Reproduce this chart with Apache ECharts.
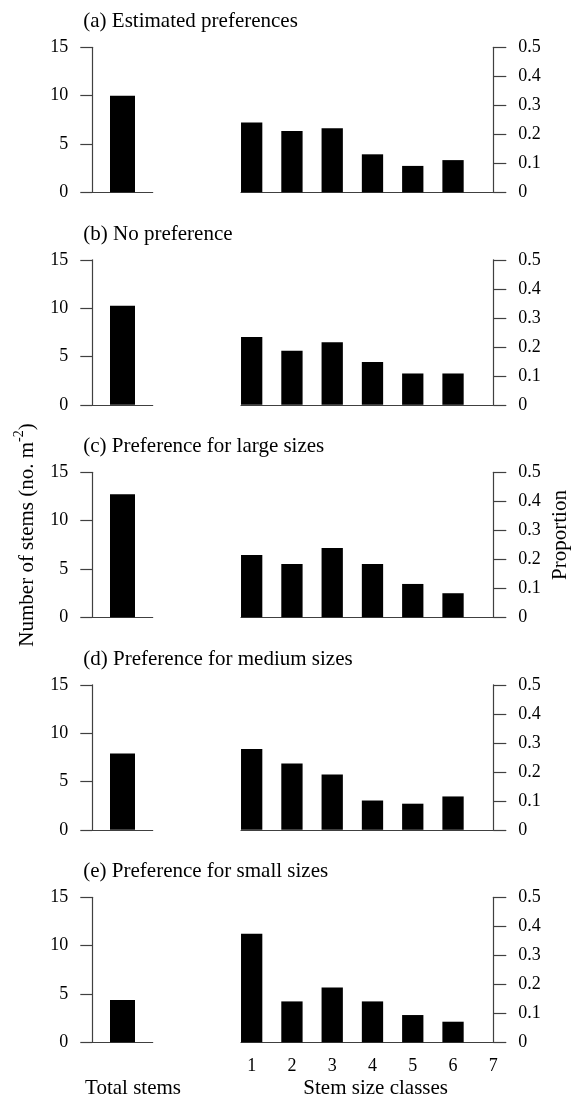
<!DOCTYPE html>
<html>
<head>
<meta charset="utf-8">
<script src="https://cdn.jsdelivr.net/npm/echarts@6/dist/echarts.min.js"></script>
<style>
html,body{margin:0;padding:0;background:#fff;}
#chart{width:582px;height:1102px;}
</style>
</head>
<body>
<div id="chart"></div>
<script>
// ---- data ----
const panelTitles = [
  '(a) Estimated preferences',
  '(b) No preference',
  '(c) Preference for large sizes',
  '(d) Preference for medium sizes',
  '(e) Preference for small sizes'
];
const totalStems = [10.0, 10.24, 12.72, 7.9, 4.38];
const sizeClasses = [1, 2, 3, 4, 5, 6];
const sizeClassTickLabels = [1, 2, 3, 4, 5, 6, 7];
const propA = [0.241, 0.211, 0.221, 0.131, 0.091, 0.111];
const propB = [0.234, 0.186, 0.216, 0.148, 0.108, 0.108];
const propC = [0.215, 0.184, 0.239, 0.184, 0.115, 0.083];
const propD = [0.279, 0.229, 0.191, 0.101, 0.090, 0.115];
const propE = [0.374, 0.141, 0.189, 0.141, 0.094, 0.071];
const proportions = [propA, propB, propC, propD, propE];
const yLeftName = 'Number of stems (no. m';
const yLeftSup = '-2';
const yRightName = 'Proportion';
const xLeftName = 'Total stems';
const xRightName = 'Stem size classes';

// ---- layout ----
const FONT = "'Liberation Serif','Times New Roman',serif";
const TOP0 = 47.3, STEP = 212.5, H = 145;
const LEFT_L = 92.3, LEFT_W = 60.4;
const RIGHT_L = 241, RIGHT_W = 252.3;
const AX = '#404040';

const grids = [], xAxes = [], yAxes = [], series = [], graphics = [];
const lineStyle = {color: AX, width: 1.2};
const tickStyle = {color: AX, width: 1.2};
const labelStyle = {color: '#000', fontFamily: FONT, fontSize: 18};

for (let i = 0; i < 5; i++) {
  const top = TOP0 + STEP * i;
  const last = i === 4;
  grids.push({left: LEFT_L, top: top, width: LEFT_W, height: H, outerBoundsMode: 'none'});
  grids.push({left: RIGHT_L, top: top, width: RIGHT_W, height: H, outerBoundsMode: 'none'});

  xAxes.push({
    type: 'category', gridIndex: 2 * i, data: [xLeftName],
    axisLine: {show: true, lineStyle: lineStyle},
    axisTick: {show: false}, axisLabel: {show: false}, splitLine: {show: false},
    name: last ? xLeftName : '', nameLocation: 'middle', nameGap: 36,
    nameTextStyle: {color: '#000', fontFamily: FONT, fontSize: 21, padding: [0, 0, 0, 21]}
  });
  xAxes.push({
    type: 'value', gridIndex: 2 * i + 1, min: 0.735, max: 7,
    axisLine: {show: true, lineStyle: lineStyle},
    axisTick: {show: false}, splitLine: {show: false},
    axisLabel: Object.assign({show: last, margin: 15, customValues: sizeClassTickLabels}, labelStyle),
    name: last ? xRightName : '', nameLocation: 'middle', nameGap: 36,
    nameTextStyle: {color: '#000', fontFamily: FONT, fontSize: 21, padding: [0, 0, 0, 17]}
  });
  yAxes.push({
    type: 'value', gridIndex: 2 * i, min: 0, max: 15, interval: 5, position: 'left',
    axisLine: {show: true, lineStyle: lineStyle},
    axisTick: {show: true, length: 12, lineStyle: tickStyle},
    axisLabel: Object.assign({margin: 24}, labelStyle),
    splitLine: {show: false}
  });
  yAxes.push({
    type: 'value', gridIndex: 2 * i + 1, min: 0, max: 0.5, interval: 0.1, position: 'right',
    axisLine: {show: true, lineStyle: lineStyle},
    axisTick: {show: true, length: 13, lineStyle: tickStyle},
    axisLabel: Object.assign({margin: 25, formatter: v => String(+v.toFixed(1))}, labelStyle),
    splitLine: {show: false}
  });

  series.push({
    type: 'bar', xAxisIndex: 2 * i, yAxisIndex: 2 * i,
    data: [totalStems[i]], barWidth: 25,
    itemStyle: {color: '#000'}, silent: true
  });
  series.push({
    type: 'bar', xAxisIndex: 2 * i + 1, yAxisIndex: 2 * i + 1,
    data: sizeClasses.map((c, j) => [c, proportions[i][j]]), barWidth: 21.3,
    itemStyle: {color: '#000'}, silent: true
  });

  graphics.push({
    type: 'text', x: 83.3, y: top - 25.6,
    style: {text: panelTitles[i], fill: '#000', font: '21px ' + FONT, verticalAlign: 'middle', align: 'left'}
  });
}

graphics.push({
  type: 'text', x: 25, y: 535, rotation: Math.PI / 2,
  style: {
    text: '{m|' + yLeftName + '}{s|' + yLeftSup + '}{m|)}',
    align: 'center', verticalAlign: 'middle',
    rich: {
      m: {fontFamily: FONT, fontSize: 21, fill: '#000', lineHeight: 26, verticalAlign: 'bottom'},
      s: {fontFamily: FONT, fontSize: 14, fill: '#000', lineHeight: 26, verticalAlign: 'top'}
    }
  }
});
graphics.push({
  type: 'text', x: 560, y: 535, rotation: Math.PI / 2,
  style: {text: yRightName, fill: '#000', font: '21px ' + FONT, align: 'center', verticalAlign: 'middle'}
});

const chart = echarts.init(document.getElementById('chart'), null, {renderer: 'canvas'});
chart.setOption({
  animation: false,
  backgroundColor: '#fff',
  grid: grids, xAxis: xAxes, yAxis: yAxes, series: series, graphic: graphics
});
</script>
</body>
</html>
